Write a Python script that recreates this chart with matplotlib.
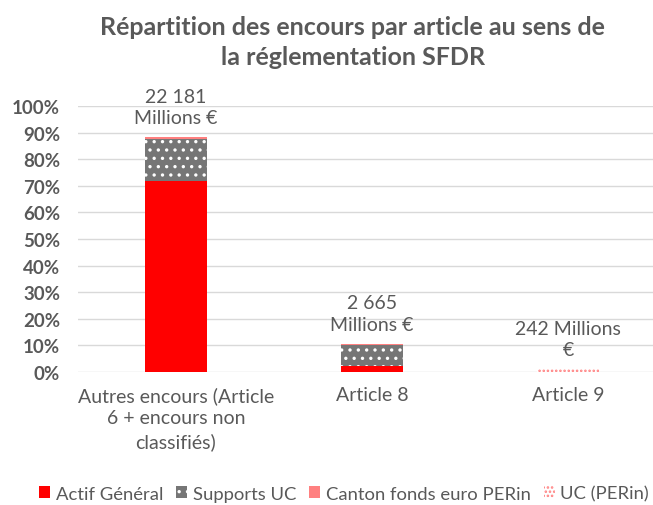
import matplotlib.pyplot as plt
import numpy as np

categories = ["Autres encours (Article\n6 + encours non\nclassifiés)", "Article 8", "Article 9"]
totals_label = ["22 181\nMillions €", "2 665\nMillions €", "242 Millions\n€"]
actif_general = [0.718, 0.023, 0.0]
supports_uc = [0.158, 0.080, 0.0]
canton_perin = [0.008, 0.003, 0.001]
uc_perin = [0.0, 0.0, 0.0086]

plt.rcParams['font.family'] = ['Lato', 'DejaVu Sans']
plt.rcParams['hatch.linewidth'] = 1.2
grey = '#595959'

fig = plt.figure(figsize=(6.53, 5.06), dpi=100)
ax = fig.add_axes([78/653, 1-373/506, 588/653, 266/506])

x = np.arange(len(categories))
w = 0.32
bottom = np.zeros(len(x))
ax.bar(x, actif_general, w, bottom=bottom, color='#ff0000', label='Actif Général', zorder=3)
bottom += actif_general
ax.bar(x, supports_uc, w, bottom=bottom, color='#767676', edgecolor='white', hatch='..',
       linewidth=0, label='Supports UC', zorder=3)
bottom += supports_uc
ax.bar(x, canton_perin, w, bottom=bottom, color='#ff8080', label='Canton fonds euro PERin', zorder=3)
bottom += canton_perin
ax.bar(x, uc_perin, w, bottom=bottom, color='white', edgecolor='#ff7f7f', hatch='....',
       linewidth=0, label='UC (PERin)', zorder=3)
bottom += uc_perin

for xi, top, lab in zip(x, bottom, totals_label):
    ax.annotate(lab, (xi, top), xytext=(0, 8), textcoords='offset points',
                ha='center', va='bottom', fontsize=14, color=grey, linespacing=1.3)

ax.set_xlim(-0.5, 2.5)
ax.set_ylim(0, 1)
ax.set_yticks(np.arange(0, 1.01, 0.1))
ax.set_yticklabels([f"{int(round(v*100))}%" for v in np.arange(0, 1.01, 0.1)],
                   fontsize=13.5, fontweight='bold', color=grey)
ax.set_xticks(x)
ax.set_xticklabels(categories, fontsize=14, color=grey, linespacing=1.4)
ax.tick_params(axis='y', length=0, pad=13)
ax.tick_params(axis='x', length=0, pad=10)
ax.grid(axis='y', color='#d9d9d9', linewidth=1, zorder=0)
for s in ax.spines.values():
    s.set_visible(False)

fig.text(0.54, 0.968, "Répartition des encours par article au sens de\nla réglementation SFDR",
         ha='center', va='top', fontsize=18, fontweight='bold', color=grey, linespacing=1.35)

fig.legend(loc='lower center', bbox_to_anchor=(0.527, -0.026), ncol=4, frameon=False,
           fontsize=13.3, handlelength=0.6, handleheight=0.6, handletextpad=0.3,
           columnspacing=0.7, labelcolor=grey)

fig.savefig('out.png', dpi=100)
